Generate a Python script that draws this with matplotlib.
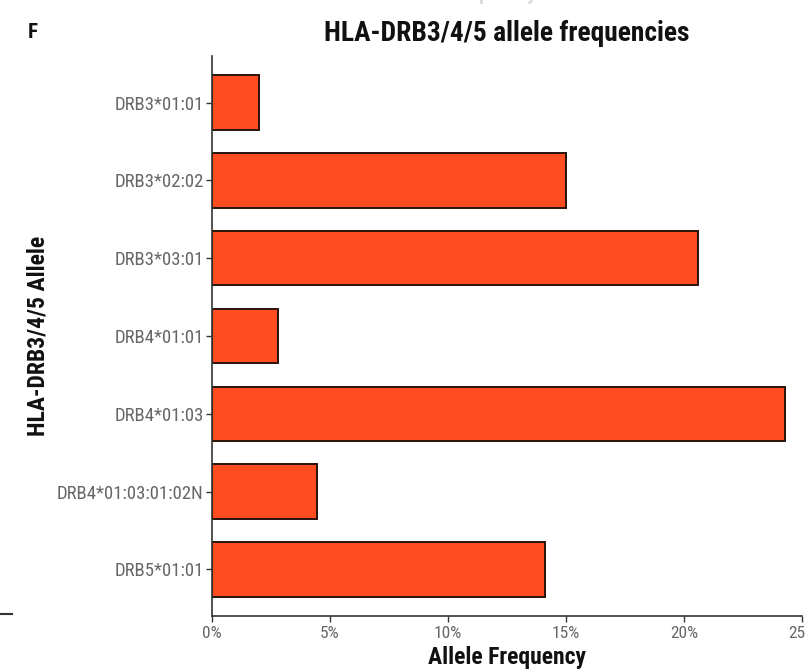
import matplotlib
matplotlib.use("Agg")
import matplotlib.pyplot as plt
from matplotlib import font_manager
from matplotlib.lines import Line2D
from matplotlib.ticker import FuncFormatter

# data
alleles = ["DRB3*01:01", "DRB3*02:02", "DRB3*03:01", "DRB4*01:01",
           "DRB4*01:03", "DRB4*01:03:01:02N", "DRB5*01:01"]
freqs = [2.0, 15.0, 20.6, 2.8, 24.3, 4.45, 14.1]
xticks = [0, 5, 10, 15, 20, 25]

# look for a narrow font, fall back to plain DejaVu
names = {f.name for f in font_manager.fontManager.ttflist}
stretch = "normal"
fam = "DejaVu Sans"
for n in ["Roboto Condensed", "Liberation Sans Narrow"]:
    if n in names:
        fam = n
        break
else:
    if any(f.name == "DejaVu Sans" and f.stretch == "condensed"
           for f in font_manager.fontManager.ttflist):
        stretch = "condensed"
plt.rcParams["font.family"] = [fam, "DejaVu Sans"]
plt.rcParams["font.stretch"] = stretch

fig = plt.figure(figsize=(8.05, 6.71), dpi=100)
W, H = 805, 671
ax = fig.add_axes([212 / W, 1 - 616 / H, (802 - 212) / W, (616 - 56) / H])

ypos = list(range(len(alleles)))
ax.barh(ypos, freqs, height=0.7, color="#FF4D1F", edgecolor="#2a1208",
        linewidth=1.4)

ax.set_xlim(0, 25)
ax.set_ylim(6.6, -0.6)
ax.set_yticks(ypos)
ax.set_yticklabels(alleles)
ax.set_xticks(xticks)
ax.xaxis.set_major_formatter(FuncFormatter(lambda v, p: f"{v:.0f}%"))

for s in ["top", "right"]:
    ax.spines[s].set_visible(False)
for s in ["left", "bottom"]:
    ax.spines[s].set_color("#333333")
    ax.spines[s].set_linewidth(1.2)
ax.tick_params(axis="y", colors="#333333", length=4, width=1.0,
               labelsize=13.5, labelcolor="#666666", pad=2)
ax.tick_params(axis="x", colors="#333333", length=4, width=1.0,
               labelsize=12.5, labelcolor="#666666", pad=3)

ax.set_xlabel("Allele Frequency", fontsize=17, fontweight="bold",
              labelpad=4, color="#111111")
ax.set_ylabel("HLA-DRB3/4/5 Allele", fontsize=17, fontweight="bold",
              labelpad=5, color="#111111")

fig.text(507 / W, 1 - 41 / H, "HLA-DRB3/4/5 allele frequencies",
         fontsize=19.8, fontweight="bold", ha="center", va="baseline",
         color="#111111")
fig.text(33 / W, 1 - 38 / H, "F", fontsize=15, fontweight="bold",
         ha="center", va="baseline", color="#111111")
# leftover of the panel above, cut by the crop
fig.text(462 / W, 1 + 1 / H, "Allele Frequency", fontsize=16,
         fontweight="bold", ha="center", va="baseline", color="#dcdcdc")
fig.add_artist(Line2D([0, 12 / W], [1 - 614 / H, 1 - 614 / H],
                      color="#333333", linewidth=1.5))

fig.savefig("out.png", dpi=100)
